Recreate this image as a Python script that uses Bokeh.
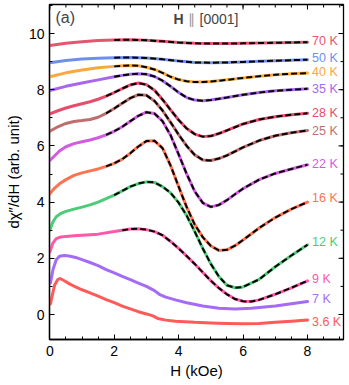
from bokeh.plotting import figure
from bokeh.models import Range1d, SingleIntervalTicker, Label
from bokeh.embed import file_html
from bokeh.resources import INLINE
import numpy as np

# ---------------- data ----------------
temps = ["70 K", "50 K", "40 K", "35 K", "28 K", "25 K", "22 K", "16 K", "12 K", "9 K", "7 K", "3.6 K"]
colors = ["#e4566f", "#6e90ea", "#f9a83f", "#a866ee", "#e64c6c", "#bf6e6e",
          "#d25ce0", "#ff7350", "#4ccc78", "#ff58a8", "#a46cf4", "#ff5a5a"]
fit_start = [1.7, 1.7, 1.7, 1.7, 1.7, 1.7, 1.7, 1.7, 1.95, 2.1, None, None]
label_y = [9.72, 9.14, 8.62, 8.03, 7.16, 6.52, 5.36, 4.15, 2.57, 1.27, 0.56, -0.27]

H70 = [0, 0.5, 1, 1.5, 2, 2.5, 3, 3.5, 4, 4.5, 5, 5.5, 6, 6.5, 7, 7.5, 8]
D70 = [9.57, 9.65, 9.71, 9.75, 9.77, 9.78, 9.76, 9.72, 9.68, 9.65, 9.64, 9.64, 9.65, 9.66, 9.67, 9.68, 9.69]

H50 = [0, 0.5, 1, 1.5, 2, 2.5, 3, 3.5, 4, 4.5, 5, 5.5, 6, 6.5, 7, 7.5, 8]
D50 = [8.96, 9.04, 9.09, 9.12, 9.14, 9.15, 9.13, 9.08, 9.02, 8.97, 8.96, 8.97, 8.99, 9.01, 9.03, 9.05, 9.07]

H40 = [0, 0.5, 1, 1.5, 2, 2.25, 2.5, 2.75, 3, 3.25, 3.5, 3.75, 4, 4.25, 4.5, 4.75, 5, 5.5, 6, 6.5, 7, 7.5, 8]
D40 = [8.46, 8.6, 8.7, 8.78, 8.83, 8.85, 8.86, 8.85, 8.8, 8.72, 8.6, 8.46, 8.36, 8.3, 8.27, 8.27, 8.29, 8.35, 8.42, 8.48, 8.53, 8.57, 8.59]

H35 = [0, 0.5, 1, 1.5, 2, 2.25, 2.5, 2.75, 3, 3.25, 3.5, 3.75, 4, 4.25, 4.5, 4.75, 5, 5.5, 6, 6.5, 7, 7.5, 8]
D35 = [7.97, 8.12, 8.24, 8.35, 8.46, 8.51, 8.55, 8.57, 8.55, 8.47, 8.32, 8.12, 7.9, 7.72, 7.63, 7.61, 7.63, 7.72, 7.82, 7.9, 7.96, 8.0, 8.03]

H28 = [0, 0.25, 0.5, 0.75, 1, 1.25, 1.5, 1.75, 2, 2.25, 2.5, 2.75, 3, 3.25, 3.5, 3.75, 4, 4.25, 4.5, 4.75, 5, 5.25, 5.5, 6, 6.5, 7, 7.5, 8]
D28 = [7.14, 7.25, 7.35, 7.43, 7.5, 7.57, 7.66, 7.77, 7.9, 8.04, 8.17, 8.24, 8.18, 7.98, 7.65, 7.28, 6.92, 6.62, 6.42, 6.33, 6.35, 6.44, 6.55, 6.78, 6.94, 7.04, 7.11, 7.16]

H25 = [0, 0.25, 0.5, 0.75, 1, 1.25, 1.5, 1.75, 2, 2.25, 2.5, 2.75, 3, 3.25, 3.5, 3.75, 4, 4.25, 4.5, 4.75, 5, 5.25, 5.5, 6, 6.5, 7, 7.5, 8]
D25 = [6.52, 6.68, 6.8, 6.87, 6.9, 6.94, 7.02, 7.16, 7.33, 7.52, 7.7, 7.82, 7.8, 7.6, 7.26, 6.84, 6.4, 6.0, 5.68, 5.5, 5.48, 5.55, 5.66, 5.95, 6.19, 6.36, 6.47, 6.55]

H22 = [0, 0.15, 0.3, 0.5, 0.75, 1, 1.25, 1.5, 1.75, 2, 2.25, 2.5, 2.75, 3, 3.25, 3.5, 3.75, 4, 4.25, 4.5, 4.75, 5, 5.25, 5.5, 5.75, 6, 6.5, 7, 7.5, 8]
D22 = [5.48, 5.65, 5.82, 5.97, 6.08, 6.15, 6.21, 6.29, 6.39, 6.52, 6.68, 6.88, 7.07, 7.2, 7.15, 6.88, 6.38, 5.7, 5.0, 4.38, 3.97, 3.83, 3.9, 4.07, 4.28, 4.48, 4.8, 5.02, 5.18, 5.33]

H16 = [0, 0.15, 0.3, 0.5, 0.75, 1, 1.25, 1.5, 1.75, 2, 2.25, 2.5, 2.75, 3, 3.25, 3.5, 3.75, 4, 4.25, 4.5, 4.75, 5, 5.25, 5.5, 5.75, 6, 6.5, 7, 7.5, 8]
D16 = [4.3, 4.5, 4.65, 4.8, 4.95, 5.04, 5.11, 5.18, 5.27, 5.38, 5.53, 5.74, 5.98, 6.17, 6.18, 5.92, 5.3, 4.55, 3.82, 3.2, 2.75, 2.44, 2.28, 2.3, 2.45, 2.65, 3.08, 3.45, 3.75, 4.0]

H12 = [0, 0.1, 0.2, 0.35, 0.5, 0.75, 1, 1.25, 1.5, 1.75, 2, 2.25, 2.5, 2.75, 3, 3.25, 3.5, 3.75, 4, 4.25, 4.5, 4.75, 5, 5.25, 5.5, 5.75, 6, 6.5, 7, 7.5, 8]
D12 = [3.0, 3.3, 3.48, 3.6, 3.67, 3.75, 3.82, 3.9, 4.0, 4.12, 4.25, 4.4, 4.55, 4.66, 4.72, 4.7, 4.55, 4.33, 3.98, 3.52, 2.95, 2.35, 1.8, 1.35, 1.04, 0.95, 0.98, 1.25, 1.7, 2.1, 2.48]

H9 = [0, 0.1, 0.2, 0.35, 0.5, 0.75, 1, 1.5, 2, 2.25, 2.5, 2.75, 3, 3.25, 3.5, 3.75, 4, 4.25, 4.5, 4.75, 5, 5.25, 5.5, 5.75, 6, 6.25, 6.5, 7, 7.5, 8]
D9 = [2.22, 2.55, 2.7, 2.76, 2.78, 2.8, 2.82, 2.86, 2.95, 3.0, 3.04, 3.05, 3.02, 2.95, 2.82, 2.6, 2.35, 2.08, 1.8, 1.5, 1.2, 0.94, 0.72, 0.55, 0.47, 0.46, 0.52, 0.72, 0.95, 1.2]

H7 = [0.02, 0.1, 0.2, 0.3, 0.45, 0.6, 0.8, 1, 1.25, 1.5, 1.75, 2, 2.25, 2.5, 2.75, 3, 3.25, 3.4, 3.6, 3.9, 4.25, 4.75, 5.25, 5.75, 6.25, 7, 7.5, 8]
D7 = [1.12, 1.6, 1.95, 2.07, 2.1, 2.08, 2.03, 1.95, 1.85, 1.74, 1.6, 1.48, 1.36, 1.24, 1.12, 1.0, 0.85, 0.72, 0.62, 0.52, 0.42, 0.3, 0.22, 0.2, 0.22, 0.3, 0.38, 0.46]

H36 = [0.02, 0.08, 0.15, 0.25, 0.32, 0.45, 0.6, 0.8, 1, 1.25, 1.5, 1.75, 2, 2.25, 2.5, 2.75, 3, 3.2, 3.35, 3.6, 3.9, 4.5, 5, 5.5, 6, 6.5, 7, 7.5, 8]
D36 = [0.38, 0.7, 1.05, 1.25, 1.28, 1.2, 1.1, 0.98, 0.88, 0.77, 0.65, 0.53, 0.42, 0.3, 0.2, 0.1, 0.02, -0.05, -0.14, -0.2, -0.24, -0.28, -0.3, -0.32, -0.33, -0.32, -0.28, -0.24, -0.2]

H_all = [H70, H50, H40, H35, H28, H25, H22, H16, H12, H9, H7, H36]
D_all = [D70, D50, D40, D35, D28, D25, D22, D16, D12, D9, D7, D36]

# ---------------- layout helpers (pixel -> data) ----------------
X0_PX, X_SCALE = 49.3, 32.21
Y0_PX, Y_SCALE = 314.0, 28.1


def px2x(px):
    return (px - X0_PX) / X_SCALE


def py2y(py):
    return (Y0_PX - py) / Y_SCALE


FONT = "Liberation Sans"
X_LO, X_HI = px2x(49), px2x(343)
Y_LO, Y_HI = py2y(339), py2y(4)

p = figure(frame_width=294, frame_height=335,
           x_range=Range1d(X_LO, X_HI), y_range=Range1d(Y_LO, Y_HI),
           output_backend="svg", toolbar_location=None,
           min_border_left=49, min_border_right=4,
           min_border_top=4, min_border_bottom=44)
p.grid.visible = False
p.outline_line_color = "black"
p.outline_line_width = 1.3
p.background_fill_color = "white"
p.border_fill_color = "white"

p.xaxis.ticker = SingleIntervalTicker(interval=2, num_minor_ticks=4)
p.yaxis.ticker = SingleIntervalTicker(interval=2, num_minor_ticks=2)

for ax in p.axis:
    ax.major_tick_in = 5
    ax.major_tick_out = 0
    ax.minor_tick_in = 3
    ax.minor_tick_out = 0
    ax.axis_line_width = 1.3
    ax.major_tick_line_width = 1
    ax.minor_tick_line_width = 1
    ax.axis_line_color = "black"
    ax.major_tick_line_color = "black"
    ax.minor_tick_line_color = "black"
    ax.major_label_text_font = FONT
    ax.major_label_text_font_size = "14px"
    ax.major_label_text_color = "black"
    ax.axis_label_text_font = FONT
    ax.axis_label_text_font_size = "15px"
    ax.axis_label_text_font_style = "normal"
    ax.axis_label_text_color = "black"

p.xaxis.major_label_standoff = 6
p.yaxis.major_label_standoff = 5
p.xaxis.axis_label = "H (kOe)"
p.xaxis.axis_label_standoff = 3
p.yaxis.axis_label = "d\u03c7\u2033/dH (arb. unit)"
p.yaxis.axis_label_standoff = 4

# mirrored inward ticks on the top and right edges
xmaj = np.arange(0, 8.01, 2.0)
xmin = np.arange(0, 9.01, 0.5)
ymaj = np.arange(0, 10.01, 2.0)
ymin = np.arange(-0.0, 11.01, 1.0)
p.segment(x0=xmin, y0=Y_HI, x1=xmin, y1=Y_HI - 3 / Y_SCALE, line_color="black", line_width=1)
p.segment(x0=xmaj, y0=Y_HI, x1=xmaj, y1=Y_HI - 5 / Y_SCALE, line_color="black", line_width=1)
p.segment(x0=X_HI, y0=ymin, x1=X_HI - 3 / X_SCALE, y1=ymin, line_color="black", line_width=1)
p.segment(x0=X_HI, y0=ymaj, x1=X_HI - 5 / X_SCALE, y1=ymaj, line_color="black", line_width=1)

# ---------------- curves ----------------
for H, D, c in zip(H_all, D_all, colors):
    p.line(H, D, line_color=c, line_width=3, line_join="round", line_cap="round")

for H, D, fs in zip(H_all, D_all, fit_start):
    if fs is None:
        continue
    hx = [h for h in H if h >= fs]
    dy = [d for h, d in zip(H, D) if h >= fs]
    p.line(hx, dy, line_color="black", line_width=2, line_dash="6 3")

# ---------------- texts ----------------
for t, c, ly in zip(temps, colors, label_y):
    p.add_layout(Label(x=px2x(311.5), y=ly, text=t, text_color=c, text_font=FONT,
                       text_font_size="12.5px", text_baseline="middle", text_align="left"))

p.add_layout(Label(x=px2x(55), y=py2y(17), text="(a)", text_font=FONT,
                   text_font_size="16px", text_baseline="middle", text_align="left"))
p.add_layout(Label(x=px2x(183), y=py2y(18.5), text="H", text_font=FONT, text_font_style="bold",
                   text_font_size="14px", text_baseline="middle", text_align="right"))
p.add_layout(Label(x=px2x(190.5), y=py2y(18.5), text="\u2225", text_font=FONT, text_color="#999999",
                   text_font_size="14px", text_baseline="middle", text_align="center"))
p.add_layout(Label(x=px2x(199), y=py2y(18.5), text="[0001]", text_font=FONT,
                   text_font_size="14px", text_baseline="middle", text_align="left"))

open("out.html", "w").write(file_html(p, INLINE))
